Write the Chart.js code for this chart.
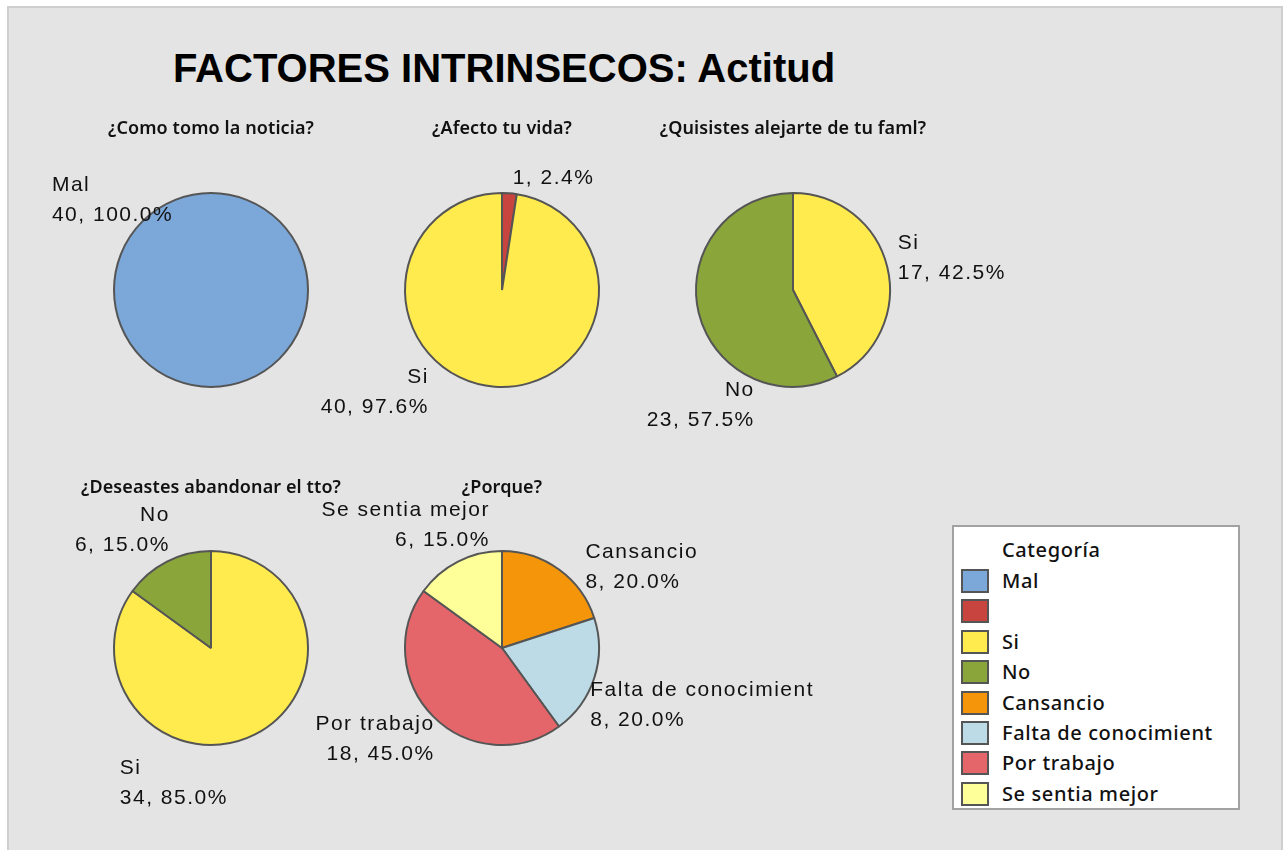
<!DOCTYPE html>
<html>
<head>
<meta charset="utf-8">
<script src="https://cdn.jsdelivr.net/npm/chart.js@4.4.1/dist/chart.umd.min.js"></script>
<style>
  html, body { margin: 0; padding: 0; background: #ffffff; width: 1284px; height: 850px; overflow: hidden; }
  #frame { position: absolute; left: 7px; top: 6px; width: 1276px; height: 860px; box-sizing: border-box;
           border: 2px solid #cfcfcf; background: #e4e4e4; }
  #title { position: absolute; left: 0; width: 1008px; top: 40px; text-align: center;
           font: bold 40px "Liberation Sans", Arial, sans-serif; color: #000; line-height: 56px; }
  .sub { position: absolute; width: 400px; text-align: center; font-family: "Noto Sans", sans-serif;
         font-weight: 600; font-size: 18px; color: #111; line-height: 24px; letter-spacing: 0.1px; }
  canvas.pie { position: absolute; pointer-events: none; }
  #legend { position: absolute; left: 952px; top: 525px; width: 288px; height: 285px; box-sizing: border-box;
            border: 2px solid #a2a2a2; background: #ffffff; font-family: "Noto Sans", sans-serif; font-weight: 500;
            font-size: 20px; color: #111; letter-spacing: 0.6px; }
  .lg-head { position: absolute; left: 48px; top: 10px; line-height: 26px; }
  .lg-row { position: absolute; left: 0; height: 24px; width: 280px; }
  .lg-sw { position: absolute; left: 7px; top: 0; width: 28px; height: 24px; box-sizing: border-box; border: 2px solid #555; }
  .lg-tx { position: absolute; left: 48px; top: -1px; line-height: 26px; white-space: nowrap; }
</style>
</head>
<body>
<div id="frame"></div>
<div id="title">FACTORES INTRINSECOS: Actitud</div>
<div id="legend"><div class="lg-head">Categoría</div></div>
<script>
// ---------------- data ----------------
const chartTitle = 'FACTORES INTRINSECOS: Actitud';
const legendTitle = 'Categoría';
const legendCategories = ['Mal', '', 'Si', 'No', 'Cansancio', 'Falta de conocimient', 'Por trabajo', 'Se sentia mejor'];

const pieTitles = ['¿Como tomo la noticia?', '¿Afecto tu vida?', '¿Quisistes alejarte de tu faml?',
                   '¿Deseastes abandonar el tto?', '¿Porque?'];

const pie1Labels = ['Mal'];
const pie1Values = [40];

const pie2Labels = ['', 'Si'];
const pie2Values = [1, 40];

const pie3Labels = ['Si', 'No'];
const pie3Values = [17, 23];

const pie4Labels = ['Si', 'No'];
const pie4Values = [34, 6];

const pie5Labels = ['Cansancio', 'Falta de conocimient', 'Por trabajo', 'Se sentia mejor'];
const pie5Values = [8, 8, 18, 6];

// ---------------- styles ----------------
const categoryColors = {
  'Mal': '#7ba7d9',
  '': '#c8443f',
  'Si': '#ffeb4d',
  'No': '#8aa63b',
  'Cansancio': '#f5960a',
  'Falta de conocimient': '#bddbe6',
  'Por trabajo': '#e5666a',
  'Se sentia mejor': '#ffff99'
};
const edgeColor = '#555555';
const pieRadius = 97;
const CW = 680, CH = 440;

// panel layout: pie centre and label placement (in units of the pie radius)
const panels = [
  { labels: pie1Labels, values: pie1Values, cx: 211, cy: 290, fullOutline: true,
    places: [{ dx: -1.64, dy: -1.08, align: 'left' }] },
  { labels: pie2Labels, values: pie2Values, cx: 502, cy: 290,
    places: [{ dx: 0.11, dy: -1.15, align: 'left' }, { dx: -0.77, dy: 0.90, align: 'right' }] },
  { labels: pie3Labels, values: pie3Values, cx: 793, cy: 290,
    places: [{ dx: 1.08, dy: -0.48, align: 'left' }, { dx: -0.41, dy: 1.03, align: 'right' }] },
  { labels: pie4Labels, values: pie4Values, cx: 211, cy: 648,
    places: [{ dx: -0.94, dy: 1.24, align: 'left' }, { dx: -0.44, dy: -1.37, align: 'right' }] },
  { labels: pie5Labels, values: pie5Values, cx: 502, cy: 648,
    places: [{ dx: 0.86, dy: -0.99, align: 'left' }, { dx: 0.91, dy: 0.43, align: 'left' },
             { dx: -0.71, dy: 0.79, align: 'right' }, { dx: -0.14, dy: -1.42, align: 'right' }] }
];
const subtitleY = [127, 127, 127, 486, 486];

// ---------------- plugin: slice labels ----------------
const LS = 1.5;
const sliceLabels = {
  id: 'sliceLabels',
  afterDatasetsDraw(chart, args, opts) {
    const meta = chart.getDatasetMeta(0);
    const ds = chart.data.datasets[0];
    const total = ds.data.reduce((a, b) => a + b, 0);
    const ctx = chart.ctx;
    ctx.save();
    if (opts.fullOutline && meta.data.length) {
      const p = meta.data[0].getProps(['x', 'y', 'outerRadius'], true);
      ctx.beginPath();
      ctx.arc(p.x, p.y, p.outerRadius, 0, Math.PI * 2);
      ctx.lineWidth = 2;
      ctx.strokeStyle = edgeColor;
      ctx.stroke();
    }
    ctx.font = '21px "Liberation Sans", Arial, sans-serif';
    ctx.letterSpacing = LS + 'px';
    ctx.fillStyle = '#111111';
    ctx.textBaseline = 'middle';
    meta.data.forEach((arc, i) => {
      const p = arc.getProps(['x', 'y', 'outerRadius'], true);
      const place = opts.places[i];
      const ax = p.x + place.dx * p.outerRadius;
      const ay = p.y + place.dy * p.outerRadius;
      const lines = [];
      const name = chart.data.labels[i];
      if (name) lines.push(name);
      lines.push(ds.data[i] + ', ' + (ds.data[i] / total * 100).toFixed(1) + '%');
      ctx.textAlign = place.align;
      const shift = place.align === 'right' ? LS : 0;
      lines.forEach((t, k) => ctx.fillText(t, ax + shift, ay + k * 30));
    });
    ctx.restore();
  }
};

// ---------------- build charts ----------------
panels.forEach((pn, idx) => {
  const cv = document.createElement('canvas');
  cv.className = 'pie';
  cv.width = CW; cv.height = CH;
  cv.style.width = CW + 'px'; cv.style.height = CH + 'px';
  cv.style.left = (pn.cx - CW / 2) + 'px';
  cv.style.top = (pn.cy - CH / 2) + 'px';
  document.body.appendChild(cv);

  const sub = document.createElement('div');
  sub.className = 'sub';
  sub.textContent = pieTitles[idx];
  sub.style.left = (pn.cx - 200) + 'px';
  sub.style.top = (subtitleY[idx] - 12) + 'px';
  document.body.appendChild(sub);

  new Chart(cv, {
    type: 'pie',
    data: {
      labels: pn.labels,
      datasets: [{
        data: pn.values,
        backgroundColor: pn.labels.map(l => categoryColors[l]),
        borderColor: edgeColor,
        borderWidth: pn.fullOutline ? 0 : 2,
        radius: pieRadius
      }]
    },
    options: {
      responsive: false,
      animation: false,
      devicePixelRatio: 1,
      layout: { padding: 0 },
      events: [],
      plugins: {
        legend: { display: false },
        tooltip: { enabled: false },
        title: { display: false },
        sliceLabels: { places: pn.places, fullOutline: !!pn.fullOutline }
      }
    },
    plugins: [sliceLabels]
  });
});

// ---------------- legend ----------------
const legendEl = document.getElementById('legend');
legendEl.querySelector('.lg-head').textContent = legendTitle;
legendCategories.forEach((c, i) => {
  const row = document.createElement('div');
  row.className = 'lg-row';
  row.style.top = (42 + i * 30.4) + 'px';
  const sw = document.createElement('div');
  sw.className = 'lg-sw';
  sw.style.background = categoryColors[c];
  const tx = document.createElement('div');
  tx.className = 'lg-tx';
  tx.textContent = c;
  row.appendChild(sw); row.appendChild(tx);
  legendEl.appendChild(row);
});
document.getElementById('title').textContent = chartTitle;
</script>
</body>
</html>
